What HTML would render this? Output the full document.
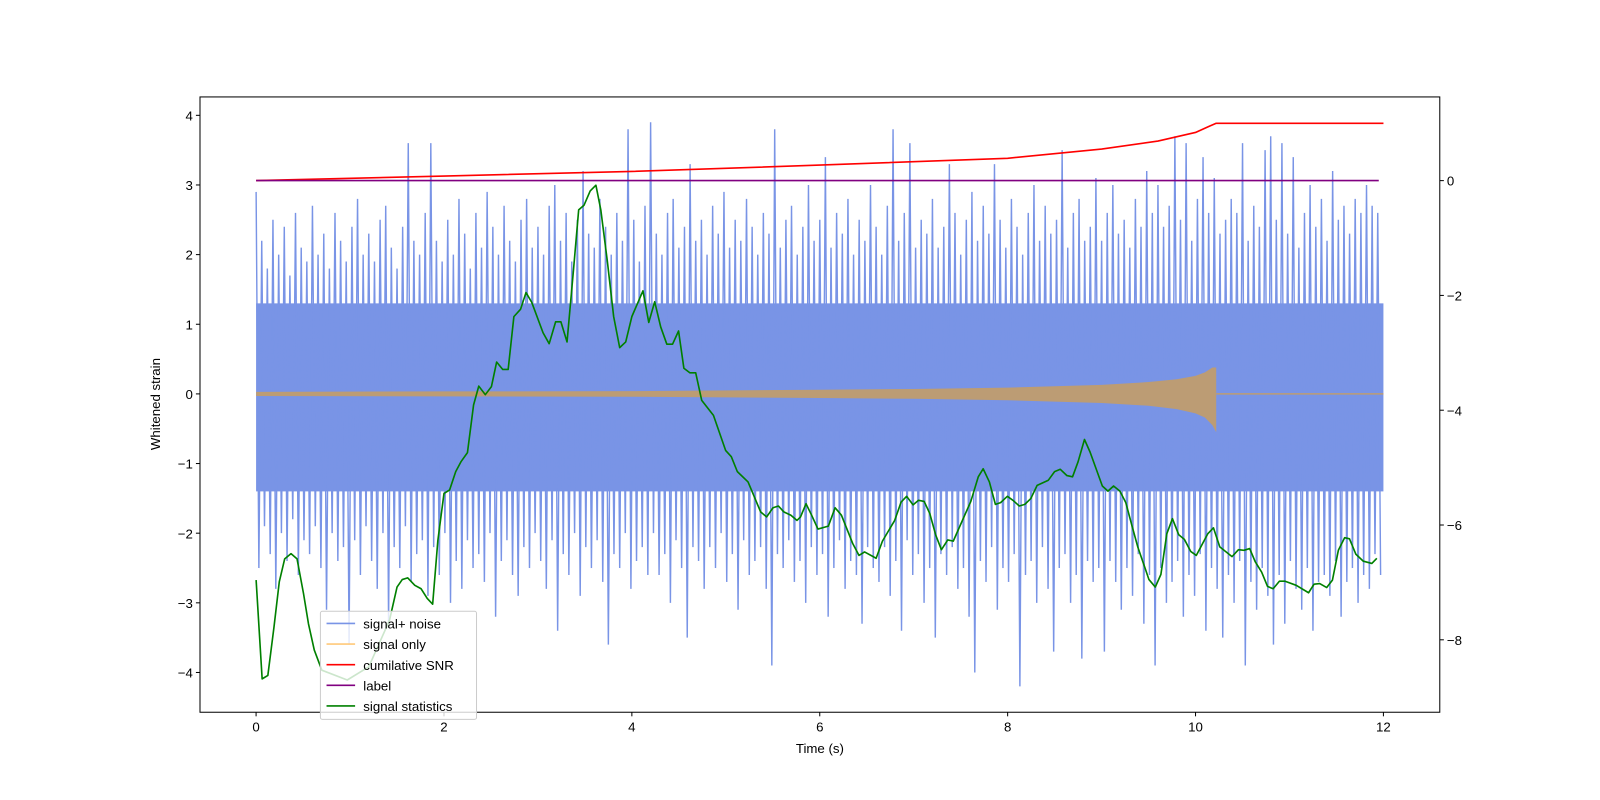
<!DOCTYPE html>
<html><head><meta charset="utf-8"><style>
body{margin:0;background:#fff;}
svg{display:block;font-family:"Liberation Sans",sans-serif;}
</style></head><body>
<svg id="chart" width="1600" height="800" viewBox="0 0 1600 800" xmlns="http://www.w3.org/2000/svg">
<rect x="0" y="0" width="1600" height="800" fill="#fff"/>
<g transform="scale(1.0204)">
<g id="plot"></g>
<g id="axes"></g>
</g>
</svg>
<script>
const xTicks=[0,2,4,6,8,10,12];
const yLeftTicks=[4,3,2,1,0,-1,-2,-3,-4];
const yRightTicks=[0,-2,-4,-6,-8];
const noisePeaks=[2.9,2.2,1.8,2.5,2.0,2.4,1.7,2.6,2.1,1.9,2.7,2.0,2.3,1.8,2.6,2.2,1.9,2.4,2.8,2.0,2.3,1.9,2.5,2.7,2.1,1.8,2.4,3.6,2.2,2.0,2.6,3.6,2.2,1.9,2.5,2.0,2.8,2.3,1.8,2.6,2.1,2.9,2.4,2.0,2.7,2.2,1.9,2.5,2.8,2.1,2.4,2.0,2.7,3.0,2.2,2.6,1.9,2.5,3.2,2.3,2.1,2.8,2.4,2.0,2.6,2.2,3.8,2.5,1.9,2.7,3.9,2.3,2.0,2.6,2.8,2.1,2.4,3.3,2.2,2.5,2.0,2.7,2.3,2.9,2.1,2.5,2.2,2.8,2.4,2.0,2.6,2.3,3.8,2.1,2.5,2.7,2.0,2.4,3.0,2.2,2.5,3.4,2.1,2.6,2.3,2.8,2.0,2.5,2.2,3.0,2.4,2.0,2.7,3.8,2.2,2.6,3.6,2.1,2.5,2.3,2.8,2.1,2.4,3.3,2.6,2.0,2.5,2.9,2.2,2.7,2.3,3.3,2.5,2.1,2.8,2.4,2.0,2.6,3.0,2.2,2.7,2.3,2.5,3.5,2.1,2.6,2.8,2.2,2.4,3.1,2.2,2.6,3.0,2.3,2.5,2.1,2.8,2.4,3.2,2.6,3.0,2.4,2.7,3.7,2.5,3.6,2.2,2.8,3.4,2.6,3.1,2.3,2.5,2.8,2.6,3.6,2.2,2.7,2.4,3.5,3.7,2.5,3.6,2.3,3.4,2.1,2.6,3.0,2.4,2.8,2.2,3.2,2.5,2.7,2.3,2.8,2.6,3.0,2.7,2.6];
const noiseTroughs=[-2.5,-1.9,-2.3,-2.8,-2.0,-2.4,-1.8,-2.6,-2.1,-2.3,-1.9,-2.5,-3.1,-2.0,-2.4,-2.2,-3.6,-2.1,-2.6,-1.9,-2.4,-2.8,-2.0,-3.3,-2.2,-2.5,-1.9,-2.7,-2.3,-2.1,-2.9,-2.2,-2.6,-2.0,-3.0,-2.4,-2.8,-2.1,-2.5,-2.3,-2.7,-2.0,-3.2,-2.4,-2.1,-2.6,-2.9,-2.2,-2.5,-2.0,-2.4,-2.8,-2.1,-3.4,-2.3,-2.6,-2.0,-2.9,-2.2,-2.5,-2.1,-2.7,-3.6,-2.3,-2.5,-2.0,-2.8,-2.4,-2.2,-2.6,-2.0,-2.6,-2.3,-3.0,-2.1,-2.5,-3.5,-2.2,-2.4,-2.8,-2.2,-2.5,-2.0,-2.7,-2.3,-3.1,-2.1,-2.6,-2.4,-2.2,-2.8,-3.9,-2.3,-2.5,-2.1,-2.7,-2.4,-3.0,-2.2,-2.6,-2.3,-3.2,-2.5,-2.1,-2.8,-2.4,-2.6,-3.3,-2.2,-2.5,-2.7,-2.2,-2.9,-2.4,-3.4,-2.1,-2.6,-2.3,-3.0,-2.5,-3.5,-2.3,-2.6,-2.2,-2.8,-2.5,-3.2,-4.0,-2.4,-2.7,-2.2,-3.1,-2.5,-2.7,-2.3,-4.2,-2.6,-2.4,-3.0,-2.2,-2.8,-3.7,-2.5,-2.3,-3.0,-2.6,-3.8,-2.4,-2.7,-2.5,-3.7,-2.4,-2.7,-3.1,-2.5,-2.9,-2.3,-3.3,-2.6,-3.9,-2.5,-3.0,-2.7,-2.4,-3.2,-2.6,-2.9,-2.3,-3.4,-2.5,-2.8,-3.5,-2.6,-3.0,-2.4,-3.9,-2.7,-3.1,-2.5,-2.9,-3.6,-2.6,-3.3,-2.4,-2.8,-3.1,-2.5,-3.4,-2.7,-2.6,-2.9,-2.4,-3.2,-2.7,-2.5,-3.0,-2.6,-2.8,-2.3,-2.6];
const noiseCore=[1.3,-1.4];
const chirpTimes=[0,2,4,6,7,8,9,9.5,9.8,10.0,10.1,10.18,10.22];
const chirpUpper=[0.03,0.035,0.04,0.06,0.07,0.09,0.13,0.17,0.21,0.26,0.31,0.38,0.38];
const chirpLower=[-0.03,-0.035,-0.04,-0.06,-0.07,-0.09,-0.13,-0.17,-0.22,-0.28,-0.34,-0.45,-0.55];
const snrTimes=[0,2,4,6,8,9,9.6,10,10.15,10.22,12];
const snrValues=[0,0.08,0.16,0.27,0.39,0.55,0.69,0.84,0.95,1.0,1.0];
const labelTimes=[0,11.95];
const labelValues=[0,0];
const statTimes=[0,.065,.125,.19,.247,.304,.372,.436,.505,.558,.619,.70,.97,1.20,1.42,1.50,1.556,1.613,1.689,1.757,1.822,1.879,1.935,2.00,2.06,2.125,2.18,2.25,2.315,2.37,2.44,2.505,2.56,2.626,2.683,2.744,2.816,2.873,2.934,3.055,3.12,3.188,3.245,3.31,3.378,3.434,3.49,3.556,3.617,3.67,3.738,3.806,3.87,3.935,4.00,4.118,4.18,4.243,4.307,4.372,4.433,4.497,4.554,4.619,4.68,4.744,4.869,4.998,5.059,5.123,5.237,5.37,5.434,5.503,5.56,5.617,5.693,5.757,5.795,5.854,5.913,5.981,6.092,6.163,6.231,6.35,6.417,6.477,6.6,6.667,6.798,6.866,6.925,6.993,7.052,7.112,7.171,7.235,7.295,7.362,7.421,7.608,7.687,7.739,7.806,7.87,7.925,7.997,8.056,8.124,8.183,8.247,8.314,8.433,8.5,8.56,8.631,8.691,8.75,8.818,8.878,9.008,9.068,9.127,9.195,9.258,9.326,9.385,9.504,9.572,9.631,9.695,9.754,9.822,9.881,9.949,10.008,10.131,10.191,10.258,10.389,10.457,10.516,10.576,10.635,10.703,10.766,10.826,10.893,10.953,11.072,11.203,11.262,11.322,11.397,11.457,11.52,11.588,11.639,11.707,11.786,11.877,11.93];
const statValues=[-6.96,-8.68,-8.62,-7.78,-6.99,-6.59,-6.50,-6.59,-7.20,-7.72,-8.18,-8.53,-8.70,-8.47,-7.66,-7.08,-6.95,-6.92,-7.05,-7.11,-7.28,-7.38,-6.27,-5.45,-5.39,-5.07,-4.90,-4.74,-3.91,-3.58,-3.73,-3.59,-3.16,-3.29,-3.29,-2.37,-2.24,-1.95,-2.12,-2.65,-2.84,-2.46,-2.46,-2.81,-1.56,-0.51,-0.43,-0.18,-0.08,-0.51,-1.39,-2.37,-2.91,-2.81,-2.37,-1.92,-2.47,-2.11,-2.55,-2.85,-2.85,-2.62,-3.27,-3.35,-3.35,-3.83,-4.09,-4.70,-4.81,-5.07,-5.25,-5.77,-5.86,-5.70,-5.67,-5.77,-5.83,-5.92,-5.86,-5.63,-5.83,-6.07,-6.02,-5.70,-5.83,-6.32,-6.53,-6.47,-6.58,-6.28,-5.92,-5.60,-5.50,-5.65,-5.57,-5.59,-5.80,-6.18,-6.43,-6.26,-6.28,-5.59,-5.16,-5.02,-5.25,-5.64,-5.61,-5.50,-5.57,-5.67,-5.64,-5.54,-5.31,-5.22,-5.07,-5.03,-5.14,-5.16,-4.90,-4.51,-4.73,-5.32,-5.41,-5.32,-5.41,-5.61,-6.03,-6.38,-6.95,-7.08,-6.86,-6.15,-5.89,-6.17,-6.25,-6.46,-6.53,-6.15,-6.05,-6.38,-6.55,-6.43,-6.44,-6.41,-6.64,-6.82,-7.07,-7.11,-6.98,-6.98,-7.05,-7.18,-7.03,-7.02,-7.09,-6.96,-6.44,-6.22,-6.24,-6.51,-6.63,-6.67,-6.58];
const legendLabels=["signal+ noise","signal only","cumilative SNR","label","signal statistics"];
const legendColors=["#7994e6","#ffc97a","#ff0000","#800080","#008000"];

const NS="http://www.w3.org/2000/svg";
const L=196,R=1411,T=95,B=698;
const xMin=-0.597,xMax=12.6;
const yLMin=-4.571,yLMax=4.264;
const yRMin=-9.262,yRMax=1.458;
function X(t){return L+(t-xMin)/(xMax-xMin)*(R-L);}
function YL(v){return B-(v-yLMin)/(yLMax-yLMin)*(B-T);}
function YR(v){return B-(v-yRMin)/(yRMax-yRMin)*(B-T);}
const plot=document.getElementById('plot'),axes=document.getElementById('axes');
function mk(tag,attrs,parent){const e=document.createElementNS(NS,tag);for(const k in attrs)e.setAttribute(k,attrs[k]);parent.appendChild(e);return e;}

let core=mk('rect',{x:X(0),y:YL(noiseCore[0]),width:X(12)-X(0),height:YL(noiseCore[1])-YL(noiseCore[0]),fill:'#7994e6'},plot);


let pts=[];const dt=12/(noisePeaks.length*2);
for(let i=0;i<noisePeaks.length;i++){pts.push(X(2*i*dt).toFixed(1)+','+YL(noisePeaks[i]).toFixed(1));pts.push(X((2*i+1)*dt).toFixed(1)+','+YL(noiseTroughs[i]).toFixed(1));}
let noise=mk('polyline',{points:pts.join(' '),fill:'none',stroke:'#7994e6','stroke-width':1.4},plot);


let cp=[];for(let i=0;i<chirpTimes.length;i++)cp.push(X(chirpTimes[i]).toFixed(1)+','+YL(chirpUpper[i]).toFixed(1));
for(let i=chirpTimes.length-1;i>=0;i--)cp.push(X(chirpTimes[i]).toFixed(1)+','+YL(chirpLower[i]).toFixed(1));
let chirp=mk('polygon',{points:cp.join(' '),fill:'#bc9c74'},plot);


let tail=mk('line',{x1:X(chirpTimes[chirpTimes.length-1]),x2:X(12),y1:YL(0),y2:YL(0),stroke:'#bc9c74','stroke-width':1.5},plot);


function line(ts,vs,color){let p=ts.map((t,i)=>X(t).toFixed(1)+','+YR(vs[i]).toFixed(1)).join(' ');
 return mk('polyline',{points:p,fill:'none',stroke:color,'stroke-width':1.6,'stroke-linejoin':'round'},plot);}
let snr=line(snrTimes,snrValues,'#ff0000');


let lab=line(labelTimes,labelValues,'#800080');


let st=line(statTimes,statValues,'#008000');



let fr=mk('rect',{x:L,y:T,width:R-L,height:B-T,fill:'none',stroke:'#000','stroke-width':1},axes);


function txt(x,y,s,anchor){let e=mk('text',{x:x,y:y,'text-anchor':anchor,'font-size':13,fill:'#000'},axes);e.textContent=s;return e;}
xTicks.forEach(t=>{let x=X(t);let tk=mk('line',{x1:x,x2:x,y1:B,y2:B+4,stroke:'#000'},axes);
 
 
 let l=txt(x,B+19,String(t),'middle');
 
 });
yLeftTicks.forEach(v=>{let y=YL(v);let tk=mk('line',{x1:L-4,x2:L,y1:y,y2:y,stroke:'#000'},axes);
 
 
 let l=txt(L-7,y+5,v<0?'\u2212'+(-v):String(v),'end');
 
 });
yRightTicks.forEach(v=>{let y=YR(v);let tk=mk('line',{x1:R,x2:R+4,y1:y,y2:y,stroke:'#000'},axes);
 
 
 let l=txt(R+7,y+5,v<0?'\u2212'+(-v):String(v),'start');
 
 });
let xt=txt((L+R)/2,738,'Time (s)','middle');


let yt=mk('text',{x:0,y:0,'text-anchor':'middle','font-size':13,transform:'translate(157,396) rotate(-90)'},axes);yt.textContent='Whitened strain';



let lg=mk('g',{},axes);


let box=mk('rect',{x:314,y:599,width:153,height:106,rx:2,fill:'#fff','fill-opacity':0.8,stroke:'#ccc'},lg);


legendLabels.forEach((s,i)=>{let y=611+i*20.2;
 let ln=mk('line',{x1:320,x2:348,y1:y,y2:y,stroke:legendColors[i],'stroke-width':1.6},lg);
 
 
 let t=mk('text',{x:356,y:y+5,'font-size':13,fill:'#000'},lg);t.textContent=s;
 
 });
</script>
</body></html>
